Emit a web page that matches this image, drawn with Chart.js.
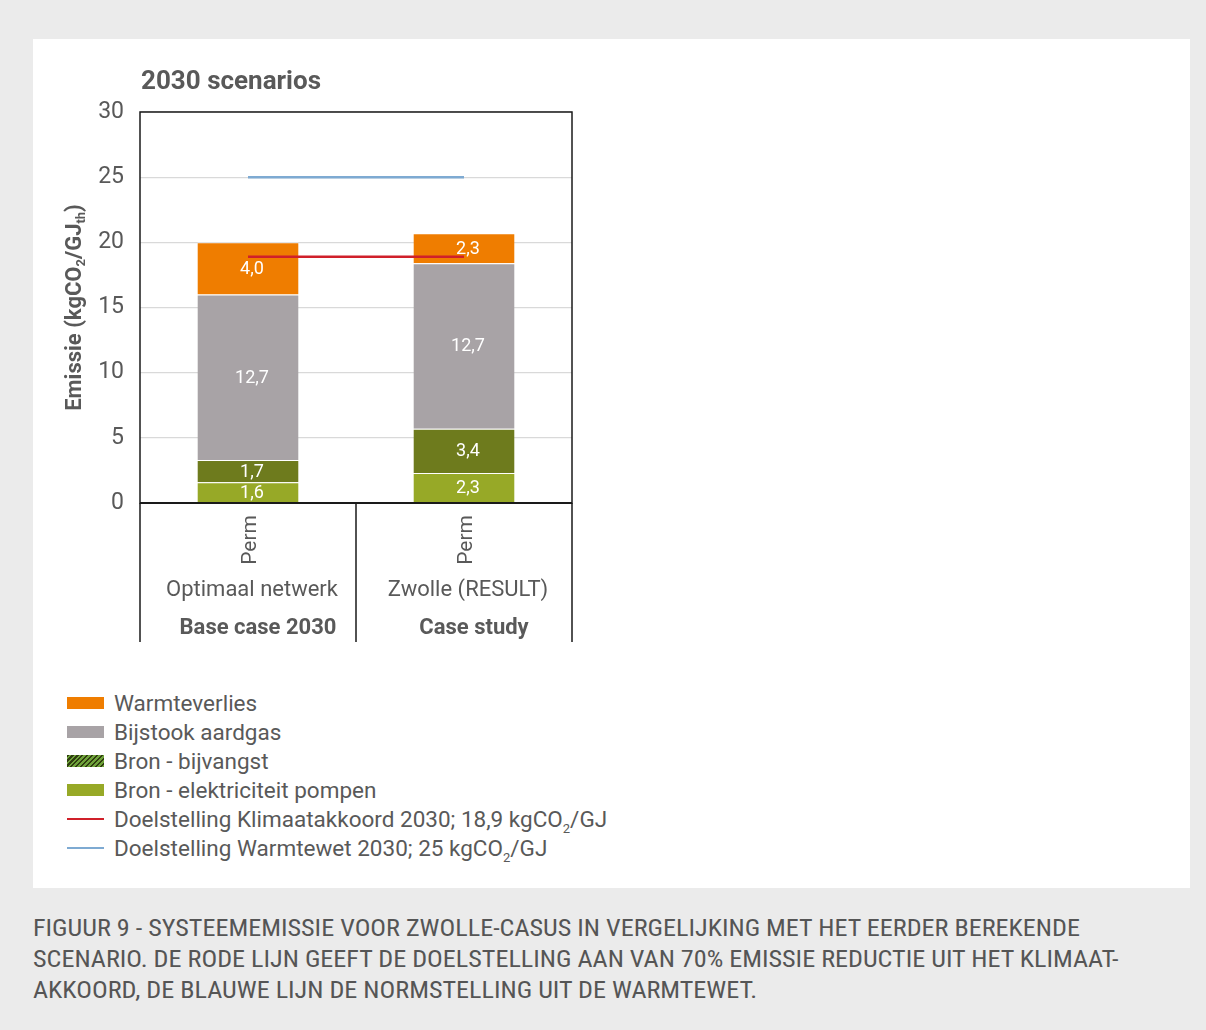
<!DOCTYPE html>
<html>
<head>
<meta charset="utf-8">
<script src="https://cdn.jsdelivr.net/npm/chart.js@4.4.1/dist/chart.umd.min.js"></script>
<style>
    html, body { margin: 0; padding: 0; }
    body { width: 1206px; height: 1030px; background: #ebebeb; position: relative; overflow: hidden; font-family: Roboto, "Open Sans", sans-serif; color: #595959; }
    .panel { position: absolute; left: 33px; top: 39px; width: 1157px; height: 849px; background: #fff; }
    .chart-box { position: absolute; left: 33px; top: 39px; width: 620px; height: 630px; }
    .legend { position: absolute; left: 67px; top: 688px; }
    .legend .row { height: 29px; display: flex; align-items: center; font-size: 22.5px; }
    .legend .sw { width: 37px; height: 12px; margin-right: 10px; flex: none; }
    .legend .ln { width: 37px; height: 2px; margin-right: 10px; flex: none; }
    .legend sub { font-size: 13px; vertical-align: -6px; line-height: 0; }
    .caption { position: absolute; left: 33px; top: 913px; font-family: "Liberation Sans Narrow", "Roboto Condensed", Roboto, sans-serif; font-size: 24px; line-height: 31px; color: #555; white-space: nowrap; }
    .caption div { transform-origin: 0 0; width: max-content; }
</style>
</head>
<body>
<div class="panel"></div>
<div class="chart-box"><canvas id="chart"></canvas></div>
<div class="legend" id="legend"></div>
<div class="caption" id="caption"></div>
<script>
// Chart data
const categories = ['Optimaal netwerk', 'Zwolle (RESULT)'];
const groups = ['Base case 2030', 'Case study'];
const subLabels = ['Perm', 'Perm'];

const elektriciteitPompen = [1.6, 2.3];
const bijvangst = [1.7, 3.4];
const bijstookAardgas = [12.7, 12.7];
const warmteverlies = [4.0, 2.3];
const klimaatakkoord = [18.9, 18.9];
const warmtewet = [25, 25];

const yMin = 0, yMax = 30, yStep = 5;

const captionLines = [
    'FIGUUR 9 - SYSTEEMEMISSIE VOOR ZWOLLE-CASUS IN VERGELIJKING MET HET EERDER BEREKENDE',
    'SCENARIO. DE RODE LIJN GEEFT DE DOELSTELLING AAN VAN 70% EMISSIE REDUCTIE UIT HET KLIMAAT-',
    'AKKOORD, DE BLAUWE LIJN DE NORMSTELLING UIT DE WARMTEWET.'
];

const C = {
    orange: '#ef7d00',
    gray: '#a8a3a6',
    olive: '#6e7b1d',
    lime: '#97a927',
    red: '#d0202a',
    blue: '#7eaad2',
    text: '#595959'
};
const FONT = 'Roboto, "Open Sans", sans-serif';

// white value labels inside the stacked segments
const barLabels = {
    id: 'barLabels',
    afterDatasetsDraw(chart) {
        const ctx = chart.ctx;
        ctx.save();
        ctx.fillStyle = '#fff';
        ctx.font = `18px ${FONT}`;
        ctx.textAlign = 'center';
        ctx.textBaseline = 'middle';
        chart.data.datasets.forEach((ds, i) => {
            if (ds.type !== 'bar') return;
            const meta = chart.getDatasetMeta(i);
            meta.data.forEach((el, j) => {
                const v = ds.data[j];
                const y = (el.y + el.base) / 2;
                ctx.fillText(v.toFixed(1).replace('.', ','), el.x + 4, y + 1);
            });
        });
        ctx.restore();
    }
};

// frame, category table, title, y-axis title
const decor = {
    id: 'decor',
    afterDraw(chart) {
        const ctx = chart.ctx;
        const a = chart.chartArea;
        const x = chart.scales.x;
        const bottom = a.bottom + 139;
        ctx.save();
        ctx.strokeStyle = '#1a1a1a';
        ctx.lineWidth = 1.5;
        ctx.strokeRect(a.left, a.top, a.right - a.left, a.bottom - a.top);
        ctx.lineWidth = 2;
        ctx.beginPath();
        ctx.moveTo(a.left, a.bottom);
        ctx.lineTo(a.right, a.bottom);
        ctx.stroke();

        // category separators
        const half = (x.getPixelForValue(1) - x.getPixelForValue(0)) / 2;
        ctx.lineWidth = 1.5;
        ctx.beginPath();
        ctx.moveTo(a.left, a.bottom);
        ctx.lineTo(a.left, bottom);
        categories.forEach((c, i) => {
            const r = x.getPixelForValue(i) + half;
            ctx.moveTo(r, a.bottom);
            ctx.lineTo(r, bottom);
        });
        ctx.stroke();

        ctx.fillStyle = C.text;
        categories.forEach((c, i) => {
            const cx = x.getPixelForValue(i);
            ctx.save();
            ctx.translate(cx + 3, a.bottom + 12);
            ctx.rotate(-Math.PI / 2);
            ctx.font = `21px ${FONT}`;
            ctx.textAlign = 'right';
            ctx.textBaseline = 'middle';
            ctx.fillText(subLabels[i], 0, 0);
            ctx.restore();

            ctx.textAlign = 'center';
            ctx.textBaseline = 'middle';
            ctx.font = `22px ${FONT}`;
            ctx.fillText(c, cx + 4, a.bottom + 87);
            ctx.font = `bold 22px ${FONT}`;
            ctx.fillText(groups[i], cx + 10, a.bottom + 125);
        });

        // title
        ctx.font = `bold 26px ${FONT}`;
        ctx.textAlign = 'left';
        ctx.textBaseline = 'alphabetic';
        ctx.fillText('2030 scenarios', a.left + 1, a.top - 23);

        // y-axis title with subscripts
        const parts = [
            ['Emissie (kgCO', false], ['2', true], ['/GJ', false], ['th', true], [')', false]
        ];
        const fMain = `bold 22px ${FONT}`, fSub = `bold 13px ${FONT}`;
        let total = 0;
        parts.forEach(p => { ctx.font = p[1] ? fSub : fMain; total += ctx.measureText(p[0]).width; });
        ctx.save();
        ctx.translate(a.left - 65, (a.top + a.bottom) / 2);
        ctx.rotate(-Math.PI / 2);
        ctx.textAlign = 'left';
        ctx.textBaseline = 'middle';
        let px = -total / 2;
        parts.forEach(p => {
            ctx.font = p[1] ? fSub : fMain;
            ctx.fillText(p[0], px, p[1] ? 7 : 0);
            px += ctx.measureText(p[0]).width;
        });
        ctx.restore();
        ctx.restore();
    }
};

new Chart(document.getElementById('chart'), {
    data: {
        labels: categories,
        datasets: [
            { type: 'line', label: 'Doelstelling Klimaatakkoord 2030', data: klimaatakkoord, stack: 'red',
              borderColor: C.red, borderWidth: 2.5, pointRadius: 0, order: -1 },
            { type: 'line', label: 'Doelstelling Warmtewet 2030', data: warmtewet, stack: 'blue',
              borderColor: C.blue, borderWidth: 2.5, pointRadius: 0, order: -1 },
            { type: 'bar', label: 'Bron - elektriciteit pompen', data: elektriciteitPompen, stack: 'bars',
              backgroundColor: C.lime, borderColor: 'rgba(255,255,255,0.5)', borderWidth: { top: 1 } },
            { type: 'bar', label: 'Bron - bijvangst', data: bijvangst, stack: 'bars',
              backgroundColor: C.olive, borderColor: 'rgba(255,255,255,0.5)', borderWidth: { top: 1 } },
            { type: 'bar', label: 'Bijstook aardgas', data: bijstookAardgas, stack: 'bars',
              backgroundColor: C.gray, borderColor: 'rgba(255,255,255,0.5)', borderWidth: { top: 1 } },
            { type: 'bar', label: 'Warmteverlies', data: warmteverlies, stack: 'bars',
              backgroundColor: C.orange, borderColor: 'rgba(255,255,255,0.5)', borderWidth: { top: 1 } }
        ]
    },
    options: {
        responsive: true,
        maintainAspectRatio: false,
        animation: false,
        layout: { padding: { top: 73, right: 81, bottom: 27, left: 0 } },
        datasets: { bar: { categoryPercentage: 1, barPercentage: 0.468 } },
        plugins: { legend: { display: false }, tooltip: { enabled: false } },
        scales: {
            x: {
                stacked: true,
                ticks: { display: false },
                grid: { display: false },
                border: { display: false },
                afterFit: s => { s.height = 139; }
            },
            y: {
                stacked: true,
                min: yMin, max: yMax,
                ticks: { stepSize: yStep, color: C.text, padding: 16, font: { family: FONT, size: 23 } },
                grid: { color: '#d9d9d9', lineWidth: 1.3, drawTicks: false },
                border: { display: false },
                afterFit: s => { s.width = 107; }
            }
        }
    },
    plugins: [barLabels, decor]
});

// legend
const legendItems = [
    { kind: 'sw', style: `background:${C.orange}`, html: 'Warmteverlies' },
    { kind: 'sw', style: `background:${C.gray}`, html: 'Bijstook aardgas' },
    { kind: 'sw', style: `background: repeating-linear-gradient(135deg, #2f3d10 0 1.5px, #6fa33a 1.5px 3.5px)`, html: 'Bron - bijvangst' },
    { kind: 'sw', style: `background:${C.lime}`, html: 'Bron - elektriciteit pompen' },
    { kind: 'ln', style: `background:${C.red}`, html: 'Doelstelling Klimaatakkoord 2030; 18,9 kgCO<sub>2</sub>/GJ' },
    { kind: 'ln', style: `background:${C.blue}`, html: 'Doelstelling Warmtewet 2030; 25 kgCO<sub>2</sub>/GJ' }
];
document.getElementById('legend').innerHTML = legendItems.map(it =>
    `<div class="row"><span class="${it.kind}" style="${it.style}"></span><span>${it.html}</span></div>`
).join('');

// caption: stretch the first line to the width it has in the figure
const cap = document.getElementById('caption');
cap.innerHTML = captionLines.map(t => `<div>${t}</div>`).join('');
const first = cap.firstChild.getBoundingClientRect().width;
const sx = 1047 / first;
Array.from(cap.children).forEach(d => { d.style.transform = `scaleX(${sx})`; });
</script>
</body>
</html>
